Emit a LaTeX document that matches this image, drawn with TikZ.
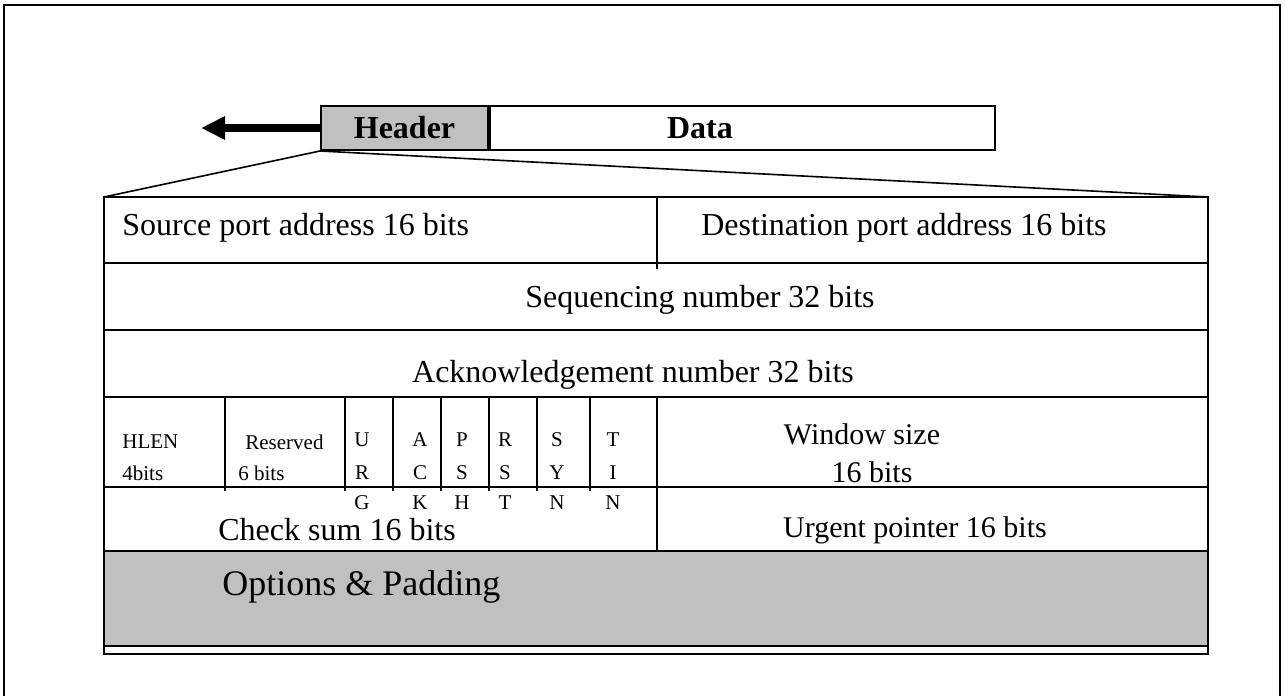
\documentclass[tikz,border=0pt]{standalone}
\usepackage{fontspec}
\setmainfont{Liberation Serif}
\usepackage{xcolor}
\usetikzlibrary{arrows.meta,positioning}

\definecolor{padgray}{RGB}{192,192,192}
\tikzset{
  rule/.style={line width=1pt},
  pktbox/.style={draw,line width=1pt,minimum height=22pt,inner sep=0pt},
  bold/.style={font=\fontsize{16}{19}\selectfont\bfseries,inner sep=0pt},
  big/.style={font=\fontsize{16}{19}\selectfont,inner sep=0pt},
  mid/.style={font=\fontsize{15}{18}\selectfont,inner sep=0pt},
  small/.style={font=\fontsize{10.5}{12}\selectfont,inner sep=0pt},
}

\begin{document}
\begin{tikzpicture}[x=0.5pt,y=-0.5pt]
\useasboundingbox (0,0) rectangle (1285,696);
\draw[line width=0.6pt](4,700)--(4,5)--(1280,5)--(1280,700);
% packet
\node[pktbox,fill=padgray,minimum width=83.5pt,bold] (hdr) at (404.5,128) {Header};
\node[pktbox,minimum width=252.5pt,anchor=west] (data) at (hdr.east) {};
\node[bold] (datatxt) at (700,128) {Data};
\coordinate (tip) at (201,128);
\draw[line width=4pt,-{Triangle[length=12pt,width=11pt]}](hdr.west)--(tip);
% header table
\coordinate (tblnw) at (104,197);
\coordinate (tblne) at (1208,197);
\draw[line width=0.8pt](hdr.south west)--(tblnw) (hdr.south west)--(tblne);
\fill[padgray](104,551)rectangle(1208,646);
\draw[rule](tblnw)rectangle(1208,646);
\draw[rule](104,646)--(104,654)--(1208,654)--(1208,646);
\foreach \y in {263,330,397,487,551} \draw[rule](104,\y)--(1208,\y);
\draw[rule](657,197)--(657,269) (657,397)--(657,551);
\foreach \x in {225,345,393,441,489,537,590} \draw[rule](\x,397)--(\x,491);
\node[big,anchor=west] (src) at (122,228) {Source port address 16 bits};
\node[big] (dst) at (904,228) {Destination port address 16 bits};
\node[big] (seq) at (700,300) {Sequencing number 32 bits};
\node[big] (ack) at (633,375) {Acknowledgement number 32 bits};
\node[small,anchor=west] (hlen) at (122,442) {HLEN};
\node[small,anchor=west] (hlenb) at (122,473) {4bits};
\node[small,anchor=west] (res) at (245,442) {Reserved};
\node[small,anchor=west] (resb) at (238,473) {6 bits};
\foreach \x/\a/\b/\c [count=\i] in {362/U/R/G,420/A/C/K,462/P/S/H,505/R/S/T,557/S/Y/N,613/T/I/N}{
  \node[small] (fa\i) at (\x,440) {\a};
  \node[small] (fb\i) at (\x,473) {\b};
  \node[small] (fc\i) at (\x,503) {\c};
}
\node[mid] (win) at (862,434) {Window size};
\node[mid] (winb) at (872,472) {16 bits};
\node[big,anchor=west] (chk) at (218,530) {Check sum 16 bits};
\node[mid] (urg) at (915,530) {Urgent pointer 16 bits};
\node[anchor=west,inner sep=0pt,font=\fontsize{18}{21}\selectfont] (opt) at (222,587) {Options \& Padding};
\end{tikzpicture}
\end{document}
